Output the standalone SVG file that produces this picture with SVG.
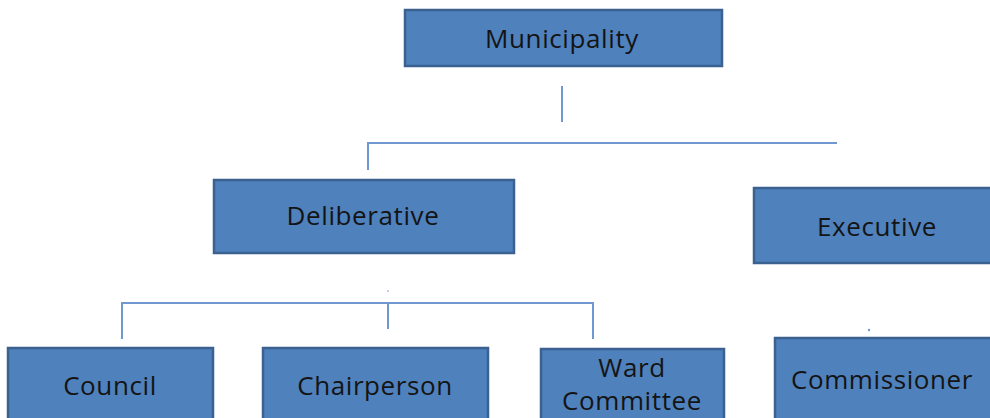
<svg xmlns="http://www.w3.org/2000/svg" width="990" height="418" viewBox="0 0 990 418">
<style>
.box{fill:#4F81BD;stroke:#3A6190;stroke-width:2.5}
.lbl{font-family:"Open Sans","Liberation Sans",sans-serif;font-size:26px;letter-spacing:0.6px;fill:#141414;text-anchor:middle}
.ln{fill:none;stroke:#7098CE;stroke-width:2}
</style>
<rect width="990" height="418" fill="#ffffff"/>
<g id="connectors">
<line class="ln" x1="562" y1="86" x2="562" y2="122"/>
<polyline class="ln" points="368,170 368,143 837,143"/>
<polyline class="ln" points="122,339 122,303 593,303 593,339"/>
<line class="ln" x1="388" y1="303" x2="388" y2="329"/>
<circle cx="388" cy="291" r="0.8" fill="#7098CE"/>
<circle cx="869" cy="330" r="1.2" fill="#7098CE"/>
</g>
<g id="municipality">
<rect class="box" x="405" y="10" width="317" height="56"/>
<text class="lbl" x="562" y="48">Municipality</text>
</g>
<g id="deliberative">
<rect class="box" x="214" y="180" width="300" height="73"/>
<text class="lbl" x="363" y="225">Deliberative</text>
</g>
<g id="executive">
<rect class="box" x="754" y="188" width="240" height="75"/>
<text class="lbl" x="877" y="236">Executive</text>
</g>
<g id="council">
<rect class="box" x="8" y="348" width="205" height="75"/>
<text class="lbl" x="110" y="395">Council</text>
</g>
<g id="chairperson">
<rect class="box" x="263" y="348" width="225" height="75"/>
<text class="lbl" x="375" y="395">Chairperson</text>
</g>
<g id="ward-committee">
<rect class="box" x="541" y="349" width="183" height="75"/>
<text class="lbl" x="632" y="377">Ward</text>
<text class="lbl" x="632" y="410">Committee</text>
</g>
<g id="commissioner">
<rect class="box" x="775" y="338" width="220" height="85"/>
<text class="lbl" x="882" y="389">Commissioner</text>
</g>
</svg>
